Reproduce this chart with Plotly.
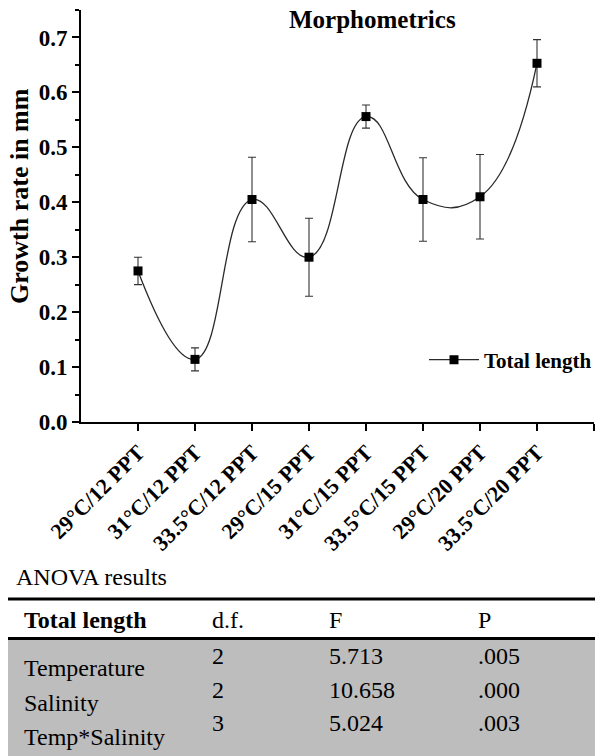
import plotly.graph_objects as go

# ---- data ----
categories = ["29°C/12 PPT", "31°C/12 PPT", "33.5°C/12 PPT", "29°C/15 PPT",
              "31°C/15 PPT", "33.5°C/15 PPT", "29°C/20 PPT", "33.5°C/20 PPT"]
growth_mean = [0.275, 0.114, 0.405, 0.300, 0.556, 0.405, 0.410, 0.653]
growth_err = [0.025, 0.021, 0.077, 0.071, 0.021, 0.076, 0.077, 0.043]
series_name = "Total length"

anova_header = ["Total length", "d.f.", "F", "P"]
anova_source = ["Temperature", "Salinity", "Temp*Salinity"]
anova_df = ["2", "2", "3"]
anova_F = ["5.713", "10.658", "5.024"]
anova_P = [".005", ".000", ".003"]

# ---- layout geometry (pixels) ----
W, H = 595, 756
L, R, T, B = 81, 1, 10, 334
PW = W - L - R
PH = H - T - B
SERIF = "Liberation Serif, Times New Roman, serif"


def px(x):
    return (x - L) / PW


def py(y):
    return (H - B - y) / PH


xs = list(range(len(categories)))

fig = go.Figure()
fig.add_trace(go.Scatter(
    x=xs, y=growth_mean, name=series_name,
    mode="lines+markers",
    line=dict(color="#2a2a2a", width=1.3, shape="spline", smoothing=1.3),
    marker=dict(symbol="square", size=9, color="black"),
    error_y=dict(type="data", array=growth_err, visible=True,
                 color="#333333", thickness=1.1, width=4),
))

fig.update_layout(
    template="none",
    width=W, height=H,
    margin=dict(l=L, r=R, t=T, b=B, pad=0, autoexpand=False),
    paper_bgcolor="white", plot_bgcolor="white",
    font=dict(family=SERIF, color="black"),
    showlegend=True,
    legend=dict(x=px(424), y=py(360), xanchor="left", yanchor="middle",
                bgcolor="rgba(0,0,0,0)", borderwidth=0, itemwidth=50,
                font=dict(family=SERIF, size=21, weight="bold", color="black")),
    xaxis=dict(
        automargin=False,
        range=[-1, len(categories)],
        tickmode="array",
        tickvals=list(range(len(categories) + 1)),
        ticktext=categories + [""],
        tickangle=-45,
        tickfont=dict(family=SERIF, size=22, weight="bold", color="black"),
        showline=True, linecolor="black", linewidth=2,
        ticks="outside", ticklen=7, tickwidth=2, tickcolor="black",
        showgrid=False, zeroline=False,
    ),
    yaxis=dict(
        automargin=False,
        range=[0, 0.75],
        dtick=0.1, tick0=0, tickformat=".1f",
        tickfont=dict(family=SERIF, size=23, weight="bold", color="black"),
        showline=True, linecolor="black", linewidth=2,
        ticks="outside", ticklen=7, tickwidth=2, tickcolor="black",
        minor=dict(dtick=0.05, ticks="outside", ticklen=4, tickwidth=1.5,
                   tickcolor="black", showgrid=False),
        showgrid=False, zeroline=False,
    ),
)

ann = []
ann.append(dict(text="<b>Morphometrics</b>", x=px(372), y=py(20),
                xref="paper", yref="paper", xanchor="center", yanchor="middle",
                showarrow=False, font=dict(family=SERIF, size=25, color="black")))
ann.append(dict(text="<b>Growth rate in mm</b>", x=px(19), y=py(196),
                xref="paper", yref="paper", xanchor="center", yanchor="middle",
                textangle=-90, showarrow=False,
                font=dict(family=SERIF, size=26, color="black")))

# ---- ANOVA table ----
ann.append(dict(text="ANOVA results", x=px(14), y=py(577), xref="paper", yref="paper",
                xanchor="left", yanchor="middle", showarrow=False,
                font=dict(family=SERIF, size=24, color="black")))

col_x = [22, 210, 327, 476]
for i, h in enumerate(anova_header):
    txt = f"<b>{h}</b>" if i == 0 else h
    ann.append(dict(text=txt, x=px(col_x[i]), y=py(620), xref="paper", yref="paper",
                    xanchor="left", yanchor="middle", showarrow=False,
                    font=dict(family=SERIF, size=24, color="black")))

label_y = [668, 703, 737]
num_y = [656, 690, 723]
for r in range(len(anova_source)):
    ann.append(dict(text=anova_source[r], x=px(col_x[0]), y=py(label_y[r]),
                    xref="paper", yref="paper", xanchor="left", yanchor="middle",
                    showarrow=False, font=dict(family=SERIF, size=24, color="black")))
    for c, vals in zip(col_x[1:], [anova_df, anova_F, anova_P]):
        ann.append(dict(text=vals[r], x=px(c), y=py(num_y[r]),
                        xref="paper", yref="paper", xanchor="left", yanchor="middle",
                        showarrow=False, font=dict(family=SERIF, size=24, color="black")))

shapes = [
    dict(type="rect", xref="paper", yref="paper", x0=px(8), x1=px(W), y0=py(640), y1=py(H),
         fillcolor="#bdbdbd", line=dict(width=0), layer="below"),
    dict(type="line", xref="paper", yref="paper", x0=px(8), x1=px(W), y0=py(599), y1=py(599),
         line=dict(color="black", width=3)),
    dict(type="line", xref="paper", yref="paper", x0=px(8), x1=px(W), y0=py(638.5), y1=py(638.5),
         line=dict(color="black", width=3)),
]

fig.update_layout(annotations=ann, shapes=shapes)
fig.write_html("out.html")
